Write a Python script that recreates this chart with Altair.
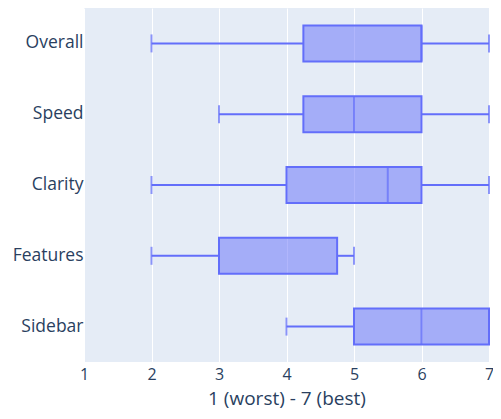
import altair as alt
import pandas as pd

categories = ["Overall", "Speed", "Clarity", "Features", "Sidebar"]
mins = [2, 3, 2, 2, 4]
q1s = [4.25, 4.25, 4, 3, 5]
medians = [6, 5, 5.5, 3, 6]
q3s = [6, 6, 6, 4.75, 7]
maxs = [7, 7, 7, 5, 7]

df = pd.DataFrame({"cat": categories, "lo": mins, "q1": q1s, "med": medians, "q3": q3s, "hi": maxs})

FONT = "Open Sans"
C = "#636efa"
TXT = "#2a3f5f"

y = alt.Y("cat:N", sort=categories, title=None,
          scale=alt.Scale(paddingInner=0, paddingOuter=0),
          axis=alt.Axis(labelFontSize=17.5, labelColor=TXT, labelFont=FONT, ticks=False,
                        domain=False, grid=False, labelPadding=1))
xscale = alt.Scale(domain=[1, 7], nice=False, zero=False)
xaxis = alt.Axis(values=[1, 2, 3, 4, 5, 6, 7], format="d", labelFontSize=16, labelColor=TXT,
                 labelFont=FONT, ticks=False, domain=False, grid=True, gridColor="white",
                 gridWidth=1, labelPadding=4, title="1 (worst) - 7 (best)",
                 titleFontSize=19, titleFont=FONT, titleColor=TXT, titleFontWeight="normal",
                 titlePadding=7, labelFlush=False)

base = alt.Chart(df)
wl = base.mark_rule(color=C, strokeWidth=2).encode(x=alt.X("lo:Q", scale=xscale, axis=xaxis), x2="q1:Q", y=y)
wr = base.mark_rule(color=C, strokeWidth=2).encode(x=alt.X("q3:Q"), x2="hi:Q", y=y)
capl = base.mark_tick(color=C, size=18, thickness=2).encode(x="lo:Q", y=y)
caph = base.mark_tick(color=C, size=18, thickness=2).encode(x="hi:Q", y=y)
box = base.mark_bar(size=36, fill=C, fillOpacity=0.5, stroke=C, strokeWidth=2).encode(x="q1:Q", x2="q3:Q", y=y)
med = base.mark_tick(color=C, size=36, thickness=2).encode(x="med:Q", y=y)

chart = alt.layer(wl, wr, capl, caph, box, med).properties(
    width=405, height=354,
    autosize=alt.AutoSizeParams(type="none"),
    padding={"left": 76, "top": 0, "right": 4, "bottom": 49},
    background="white",
).configure_view(fill="#E5ECF6", stroke=None)

chart.save("out.html", embed_options={"renderer": "svg", "actions": False})
